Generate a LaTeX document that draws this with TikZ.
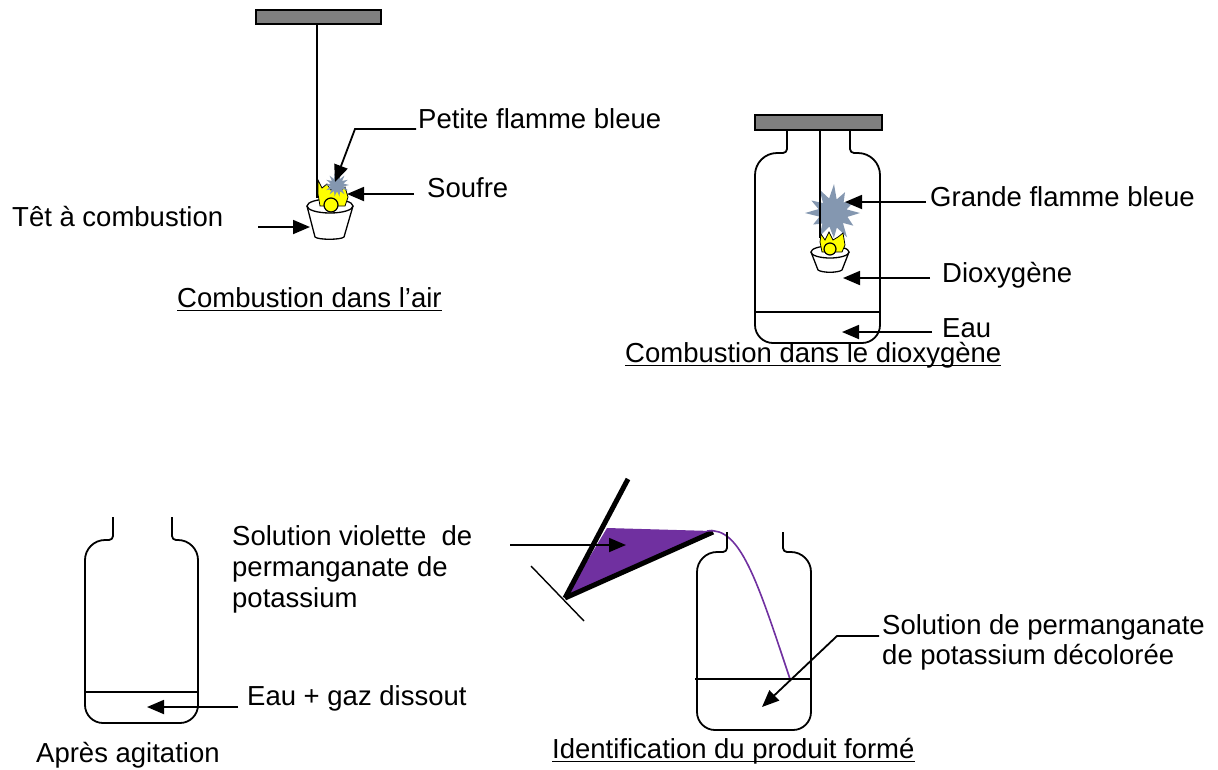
\documentclass[tikz,border=0pt]{standalone}
\usepackage{fontspec}
\setmainfont{Liberation Sans}
\usetikzlibrary{arrows.meta}
\definecolor{barcol}{HTML}{7F7F7F}
\definecolor{burstcol}{HTML}{8497B0}
\definecolor{violetcol}{HTML}{7030A0}
\definecolor{flamecol}{HTML}{FFFF00}

\tikzset{
  lbl/.style={inner sep=0pt, anchor=base west, font=\fontsize{27.5}{33}\selectfont},
  ptr/.style={line width=1.8pt, -{Triangle[length=17pt,width=14pt]}},
  uline/.style={line width=1.3pt},
  glass/.style={line width=1.8pt, line join=round},
  thin/.style={line width=1.4pt},
  holder/.style={fill=barcol, draw=black, line width=1.6pt},
  burst/.style={fill=burstcol},
  flame/.style={fill=flamecol, draw=black, line width=0.8pt},
  sulfur/.style={fill=flamecol, draw=black, line width=1.2pt},
  cup/.style={fill=white, draw=black, line width=1.3pt},
}

\begin{document}
\begin{tikzpicture}[x=1pt,y=-1pt]
\useasboundingbox (0,0) rectangle (1218,769);

% ---------- combustion in air ----------
\draw[holder] (256,10) rectangle (381,24);
\draw[thin] (317,24) -- (317,198);
% combustion cup
\fill[white] (307,206) -- (315,237) .. controls (318,240) and (341,240) .. (344,237) -- (353,206) -- cycle;
\draw[cup] (307,206) -- (315,237) .. controls (318,240) and (341,240) .. (344,237) -- (353,206);
\draw[cup] (330,206) ellipse [x radius=23, y radius=7];
% small flame
\draw[flame] (318,180) -- (322,188) -- (327,184) -- (331,190) -- (335,185) -- (340,191)
  -- (345,187) -- (348,197) -- (345,206) -- (320,206) -- (318,194) -- cycle;
\begin{scope}[shift={(337,185)}]
  \fill[burst] (0:12) \foreach \k in {1,...,13} { -- ({\k*25.714-12.857}:6.5) -- ({\k*25.714}:12) }
    -- (347.14:6.5) -- cycle;
\end{scope}
\draw[sulfur] (331,205) circle [radius=7];

\node[lbl] (pfb) at (418,128) {Petite flamme bleue};
\node[lbl] (soufre) at (427,197) {Soufre};
\node[lbl] (tet) at (12,226) {Têt à combustion};
\node[lbl] (cair) at (177,307) {Combustion dans l’air};
\draw[uline] ([yshift=-3.5pt]cair.base west) -- ([yshift=-3.5pt]cair.base east);

\coordinate (pfbA) at (416,129);
\coordinate (pfbB) at (355,129);
\coordinate (pfbT) at (335,182);
\draw[ptr] (pfbA) -- (pfbB) -- (pfbT);
\coordinate (soA) at (414,194);
\coordinate (soT) at (347,194);
\draw[ptr] (soA) -- (soT);
\coordinate (teA) at (258,227);
\coordinate (teT) at (310,227);
\draw[ptr] (teA) -- (teT);

% ---------- combustion in dioxygen ----------
\draw[holder] (755,115) rectangle (882,130);
\begin{scope}[shift={(833,213)}]
  \fill[burst] (0:27) -- (15:15) -- (32:24) -- (45:14) -- (60:28) -- (75:15) -- (88:25)
    -- (105:14) -- (120:27) -- (135:15) -- (150:23) -- (165:14) -- (180:28) -- (195:15)
    -- (210:25) -- (225:14) -- (240:27) -- (255:15) -- (272:29) -- (285:14) -- (300:24)
    -- (315:15) -- (330:26) -- (345:14) -- cycle;
\end{scope}
\draw[thin] (820,130) -- (820,238);
\fill[white] (811,252) -- (818,270) .. controls (822,273) and (838,273) .. (842,270) -- (849,252) -- cycle;
\draw[cup] (811,252) -- (818,270) .. controls (822,273) and (838,273) .. (842,270) -- (849,252);
\draw[cup] (830,252) ellipse [x radius=19, y radius=6];
\draw[flame] (821,234) -- (825,240) -- (829,232) -- (833,240) -- (838,237) -- (843,233)
  -- (845,245) -- (842,252) -- (822,252) -- (820,242) -- cycle;
\draw[sulfur] (830,249) circle [radius=6];
% jar
\draw[glass] (787,130) -- (787,149) .. controls (787,151.2) and (785.2,153) .. (783,153)
  -- (777,153) .. controls (764.9,153) and (755,162.9) .. (755,175)
  -- (755,325) .. controls (755,334.9) and (763.1,343) .. (773,343)
  -- (862,343) .. controls (871.9,343) and (880,334.9) .. (880,325)
  -- (880,175) .. controls (880,162.9) and (870.1,153) .. (858,153)
  -- (854,153) .. controls (851.8,153) and (850,151.2) .. (850,149)
  -- (850,130);
\draw[thin] (755,312) -- (880,312);

\node[lbl] (gfb) at (930,206) {Grande flamme bleue};
\node[lbl] (diox) at (942,282) {Dioxygène};
\node[lbl] (eau) at (942,337) {Eau};
\node[lbl] (cdiox) at (625,362) {Combustion dans le dioxygène};
\draw[uline] ([yshift=-3.5pt]cdiox.base west) -- ([yshift=-3.5pt]cdiox.base east);

\coordinate (gfA) at (926,202);
\coordinate (gfT) at (845,202);
\draw[ptr] (gfA) -- (gfT);
\coordinate (dxA) at (930,278);
\coordinate (dxT) at (843,278);
\draw[ptr] (dxA) -- (dxT);
\coordinate (euA) at (932,332);
\coordinate (euT) at (842,332);
\draw[ptr] (euA) -- (euT);

% ---------- after shaking ----------
\draw[glass] (113,517) -- (113,536) .. controls (113,538.2) and (111.2,540) .. (109,540)
  -- (105,540) .. controls (94,540) and (85,549) .. (85,560)
  -- (85,705) .. controls (85,714.9) and (93.1,723) .. (103,723)
  -- (180,723) .. controls (189.9,723) and (198,714.9) .. (198,705)
  -- (198,560) .. controls (198,549) and (189,540) .. (178,540)
  -- (176,540) .. controls (173.8,540) and (172,538.2) .. (172,536)
  -- (172,517);
\draw[thin] (85,692) -- (198,692);
\node[lbl] (eaugaz) at (247,705) {Eau + gaz dissout};
\node[lbl] (apres) at (36,762) {Après agitation};
\coordinate (egA) at (238,707);
\coordinate (egT) at (147,707);
\draw[ptr] (egA) -- (egT);

% ---------- identification ----------
\fill[violetcol] (565,598) -- (607,528) -- (712,531) -- cycle;
\draw[line width=5pt] (565,598) -- (628,479);
\draw[line width=5pt] (565,598) -- (713,532);
\draw[thin] (531,566) -- (584,621);
\draw[violetcol, line width=1.6pt] (707,531) .. controls (740,526) and (757,580) .. (790,679);
\draw[glass] (727,532) -- (727,548) .. controls (727,550.2) and (725.2,552) .. (723,552)
  -- (717,552) .. controls (706,552) and (697,561) .. (697,572)
  -- (697,712) .. controls (697,721.9) and (705.1,730) .. (715,730)
  -- (793,730) .. controls (802.9,730) and (811,721.9) .. (811,712)
  -- (811,572) .. controls (811,561) and (802,552) .. (791,552)
  -- (787,552) .. controls (784.8,552) and (783,550.2) .. (783,548)
  -- (783,532);
\draw[thin] (695,679) -- (811,679);

\node[lbl] (sv1) at (232,545) {Solution violette\ \ de};
\node[lbl] (sv2) at (232,576) {permanganate de};
\node[lbl] (sv3) at (232,607) {potassium};
\node[lbl] (sd1) at (882,634) {Solution de permanganate};
\node[lbl] (sd2) at (882,664) {de potassium décolorée};
\node[lbl] (ident) at (552,758) {Identification du produit formé};
\draw[uline] ([yshift=-3.5pt]ident.base west) -- ([yshift=-3.5pt]ident.base east);

\coordinate (svA) at (510,545);
\coordinate (svT) at (626,545);
\draw[ptr] (svA) -- (svT);
\coordinate (sdA) at (879,636);
\coordinate (sdB) at (837,636);
\coordinate (sdT) at (762,707);
\draw[ptr] (sdA) -- (sdB) -- (sdT);
\end{tikzpicture}
\end{document}
